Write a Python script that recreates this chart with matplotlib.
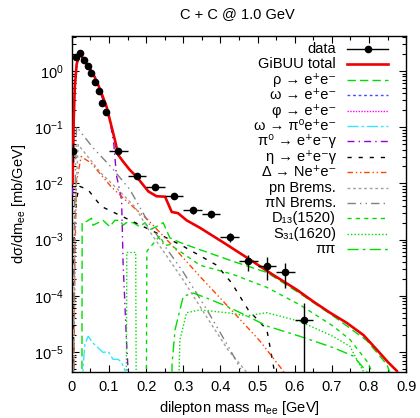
import matplotlib
matplotlib.use("Agg")
import matplotlib.pyplot as plt
import matplotlib.ticker as ticker
from matplotlib.lines import Line2D
import numpy as np

plt.rcParams['font.family'] = ['Liberation Sans', 'DejaVu Sans']
plt.rcParams['mathtext.fontset'] = 'custom'
plt.rcParams['mathtext.rm'] = 'Liberation Sans'
plt.rcParams['mathtext.it'] = 'Liberation Sans:italic'

# --- data (HADES C+C 1.0 GeV)
data_m = [0.0025, 0.0125, 0.0225, 0.0325, 0.0425, 0.0525, 0.0625, 0.0725, 0.0825, 0.0925,
          0.125, 0.175, 0.225, 0.275, 0.325, 0.375, 0.425, 0.475, 0.525, 0.575, 0.625]
data_y = [0.038, 1.80, 2.06, 1.57, 1.23, 0.93, 0.63, 0.44, 0.27, 0.19,
          0.038, 0.0138, 0.0086, 0.0059, 0.0033, 0.0028, 0.00111, 4.1e-4, 3.4e-4, 2.6e-4, 3.7e-5]
data_yerr = [0.014, 0.05, 0.05, 0.04, 0.03, 0.02, 0.015, 0.01, 0.008, 0.006,
             0.003, 0.0015, 0.001, 0.0007, 0.0005, 0.0004, 0.0002, 1.3e-4, 1.5e-4, 1.2e-4, 3.8e-5]
data_xerr = [0, 0, 0, 0, 0, 0, 0, 0, 0, 0,
             0.025, 0.025, 0.025, 0.025, 0.025, 0.025, 0.025, 0.025, 0.025, 0.025, 0.025]

# --- GiBUU total
tot_m = [0.002, 0.005, 0.008, 0.013, 0.0216, 0.032, 0.057, 0.075, 0.0935, 0.107, 0.116, 0.125,
         0.138, 0.156, 0.174, 0.206, 0.228, 0.251, 0.269, 0.286, 0.309, 0.345, 0.41, 0.475,
         0.54, 0.605, 0.650, 0.695, 0.740, 0.785, 0.821, 0.852, 0.875, 0.885]
tot_y = [1.0e-2, 0.126, 0.52, 1.32, 2.11, 1.57, 0.91, 0.49, 0.232, 0.102, 0.059, 0.032,
         0.0245, 0.0174, 0.0132, 0.0072, 0.0059, 0.0058, 0.0031, 0.00295, 0.0022, 0.00162, 8.7e-4, 4.6e-4,
         2.4e-4, 1.29e-4, 7.9e-5, 5.0e-5, 3.3e-5, 2.0e-5, 1.1e-5, 6.5e-6, 4.6e-6, 3e-6]

# --- contributions
rho_m = [0.027, 0.0278, 0.0396, 0.053, 0.057, 0.084, 0.102, 0.116, 0.129, 0.138, 0.147, 0.165,
         0.183, 0.197, 0.210, 0.228, 0.246, 0.264, 0.291, 0.345, 0.434, 0.525, 0.614, 0.703,
         0.794, 0.848, 0.858, 0.865]
rho_y = [1e-7, 2.0e-3, 2.1e-3, 2.4e-3, 1.8e-3, 2.2e-3, 1.7e-3, 2.2e-3, 2.2e-3, 1.8e-3, 2.0e-3, 2.0e-3,
         1.7e-3, 2.0e-3, 1.5e-3, 1.7e-3, 2.0e-3, 1.07e-3, 8.9e-4, 6.6e-4, 4.1e-4, 2.6e-4, 1.1e-4, 4.4e-5,
         1.6e-5, 6e-6, 4e-6, 2.5e-6]

omega_m = []
omega_y = []
phi_m = []
phi_y = []

omdal_m = [0.0285, 0.030, 0.035, 0.044, 0.057, 0.07, 0.084, 0.098, 0.111, 0.125, 0.134, 0.147, 0.15]
omdal_y = [1e-7, 5e-6, 1.35e-5, 1.9e-5, 1.45e-5, 1.2e-5, 9.8e-6, 1.02e-5, 7.4e-6, 7.4e-6, 6.5e-6, 4e-6, 1e-7]

pi0_m = [0.002, 0.005, 0.008, 0.013, 0.021, 0.032, 0.057, 0.075, 0.093, 0.105, 0.113, 0.12,
         0.134, 0.138, 0.147, 0.152, 0.16]
pi0_y = [6.3e-3, 0.1, 0.45, 1.12, 1.86, 1.45, 0.83, 0.44, 0.21, 0.105, 0.05, 0.0141,
         0.0051, 3.9e-4, 1.66e-5, 4e-6, 1e-7]

eta_m = [0.003, 0.006, 0.012, 0.02, 0.043, 0.079, 0.174, 0.237, 0.30, 0.39, 0.43, 0.475,
         0.525, 0.538, 0.55]
eta_y = [1e-7, 1e-3, 5e-3, 8.9e-3, 7.8e-3, 3.9e-3, 1.95e-3, 1.23e-3, 7.6e-4, 3.5e-4, 1.7e-4, 5.6e-5,
         2.5e-5, 8.5e-6, 3e-6]

delta_m = [0.004, 0.008, 0.012, 0.025, 0.052, 0.106, 0.151, 0.205, 0.264, 0.345, 0.444, 0.507,
           0.569, 0.58]
delta_y = [1e-7, 3e-4, 1e-2, 0.030, 0.023, 8.7e-3, 4.6e-3, 2.24e-3, 8.7e-4, 2.2e-4, 4.4e-5, 1.55e-5,
           4.6e-6, 3e-6]

pn_m = [0.004, 0.009, 0.017, 0.079, 0.124, 0.170, 0.210, 0.299, 0.364, 0.420, 0.469, 0.475]
pn_y = [1e-7, 3e-3, 0.049, 0.0151, 7.8e-3, 3.8e-3, 1.38e-3, 1.95e-4, 4.1e-5, 1.1e-5, 4.5e-6, 2.5e-6]

piN_m = [0.003, 0.007, 0.0127, 0.057, 0.106, 0.156, 0.210, 0.299, 0.364, 0.426, 0.458, 0.465]
piN_y = [1e-7, 3e-3, 0.102, 0.043, 0.0195, 7.8e-3, 1.82e-3, 2.7e-4, 5.6e-5, 1.1e-5, 4.5e-6, 2.5e-6]

d13_m = [0.2, 0.202, 0.210, 0.222, 0.237, 0.25, 0.264, 0.291, 0.345, 0.434, 0.525, 0.614,
         0.703, 0.749, 0.794, 0.808, 0.812]
d13_y = [1e-7, 6.2e-4, 7.2e-4, 8.9e-4, 1.17e-3, 7.9e-4, 8.1e-4, 6.2e-4, 3.5e-4, 2.4e-4, 1.41e-4, 6.9e-5,
         2.9e-5, 1.66e-5, 6.9e-6, 4.5e-6, 2.5e-6]

s31_m = [0.146, 0.148, 0.172, 0.174, 0.282, 0.291, 0.309, 0.345, 0.417, 0.471, 0.525, 0.614,
         0.703, 0.749, 0.767, 0.785, 0.79]
s31_y = [1e-7, 5.9e-4, 5.9e-4, 1e-7, 1e-7, 1.66e-5, 5.0e-5, 5.6e-5, 5.0e-5, 4.4e-5, 5.0e-5, 3.5e-5,
         1.9e-5, 1.26e-5, 7.4e-6, 4.5e-6, 2.5e-6]

pipi_m = [0.264, 0.27, 0.278, 0.291, 0.300, 0.327, 0.363, 0.417, 0.471, 0.525, 0.614, 0.703,
          0.757, 0.794, 0.8]
pipi_y = [1e-7, 6.3e-6, 2.5e-5, 5.6e-5, 9.8e-5, 1.12e-4, 9.1e-5, 6.5e-5, 4.4e-5, 2.9e-5, 1.9e-5, 1.2e-5,
          8.5e-6, 4.5e-6, 2.5e-6]

# --- the plot
fig = plt.figure(figsize=(4.2, 4.18), dpi=100)
ax = fig.add_axes([0.171, 0.110, 0.796, 0.804])

green = '#00dd00'
components = [
    (rho_m, rho_y, 'ρ → e⁺e⁻', green, (0, (6, 3))),
    (omega_m, omega_y, 'ω → e⁺e⁻', '#4a4aff', (0, (2, 2))),
    (phi_m, phi_y, 'φ → e⁺e⁻', '#ff00ff', (0, (1, 1))),
    (omdal_m, omdal_y, 'ω → π⁰e⁺e⁻', '#33e5ff', (0, (8, 2, 2, 2))),
    (pi0_m, pi0_y, 'π⁰ → e⁺e⁻γ', '#9400d3', (0, (5, 3, 1, 3))),
    (eta_m, eta_y, 'η → e⁺e⁻γ', 'black', (0, (3, 5))),
    (delta_m, delta_y, 'Δ → Ne⁺e⁻', '#ff4500', (0, (4, 2, 1, 2, 1, 2))),
    (pn_m, pn_y, 'pn Brems.', '#a0a0a0', (0, (2, 2))),
    (piN_m, piN_y, 'πN Brems.', '#808080', (0, (6, 3, 1, 3, 1, 3))),
    (d13_m, d13_y, 'D₁₃(1520)', green, (0, (3, 3))),
    (s31_m, s31_y, 'S₃₁(1620)', green, (0, (1, 1.5))),
    (pipi_m, pipi_y, 'ππ', green, (0, (8, 3, 2, 3))),
]

ax.errorbar(data_m, data_y, yerr=data_yerr, xerr=data_xerr, fmt='o', color='black',
            ms=4.5, lw=1, capsize=0, zorder=6)
ax.plot(tot_m, tot_y, color='#ee0000', lw=1.9, zorder=5)
for m, y, lab, col, ls in components:
    ax.plot(m, y, color=col, lw=1.0, ls=ls, zorder=3)

ax.set_xlim(0, 0.9)
ax.set_ylim(4.4e-6, 4.2)
ax.set_yscale('log')

ax.xaxis.set_major_locator(ticker.MultipleLocator(0.1))
ax.xaxis.set_minor_locator(ticker.MultipleLocator(0.05))
ax.xaxis.set_major_formatter(ticker.FuncFormatter(lambda v, p: "0" if abs(v) < 1e-9 else f"{v:.1f}"))
ax.yaxis.set_major_locator(ticker.LogLocator(base=10, numticks=20))
ax.yaxis.set_minor_locator(ticker.LogLocator(base=10, subs=np.arange(2, 10), numticks=20))
ax.yaxis.set_minor_formatter(ticker.NullFormatter())

ax.tick_params(which='both', direction='in', top=True, right=True, labelsize=10.5, width=0.8)
ax.tick_params(which='major', length=5, pad=6)
ax.tick_params(which='minor', length=3)
for s in ax.spines.values():
    s.set_linewidth(1.0)

ax.set_xlabel(r'dilepton mass m$_{\mathrm{ee}}$ [GeV]', fontsize=10.5, labelpad=3)
ax.set_ylabel(r'dσ/dm$_{\mathrm{ee}}$ [mb/GeV]', fontsize=10.5, labelpad=4)

fig.text(0.565, 0.967, 'C + C @ 1.0 GeV', ha='center', va='center', fontsize=10.5)

# --- gnuplot-style key: text right-aligned, sample line on the right, even rows
key_labels = ['data', 'GiBUU total'] + [c[2] for c in components]
key_styles = [('black', 1.0, '-'), ('#ee0000', 1.9, '-')] + [(c[3], 1.0, c[4]) for c in components]
row0, drow = 0.949, 0.0458
x_text, x_h0, x_h1 = 0.790, 0.823, 0.946
for i, (lab, (col, lw, ls)) in enumerate(zip(key_labels, key_styles)):
    yk = row0 - i * drow
    ax.text(x_text, yk, lab, transform=ax.transAxes, ha='right', va='baseline', fontsize=10.5)
    yl = yk + 0.012
    ax.add_line(Line2D([x_h0, x_h1], [yl, yl], transform=ax.transAxes, color=col, lw=lw, ls=ls))
    if i == 0:
        ax.add_line(Line2D([(x_h0 + x_h1) / 2], [yl], transform=ax.transAxes, color='black',
                           marker='o', ms=4.5, lw=0))

plt.savefig('out.png', dpi=100)
